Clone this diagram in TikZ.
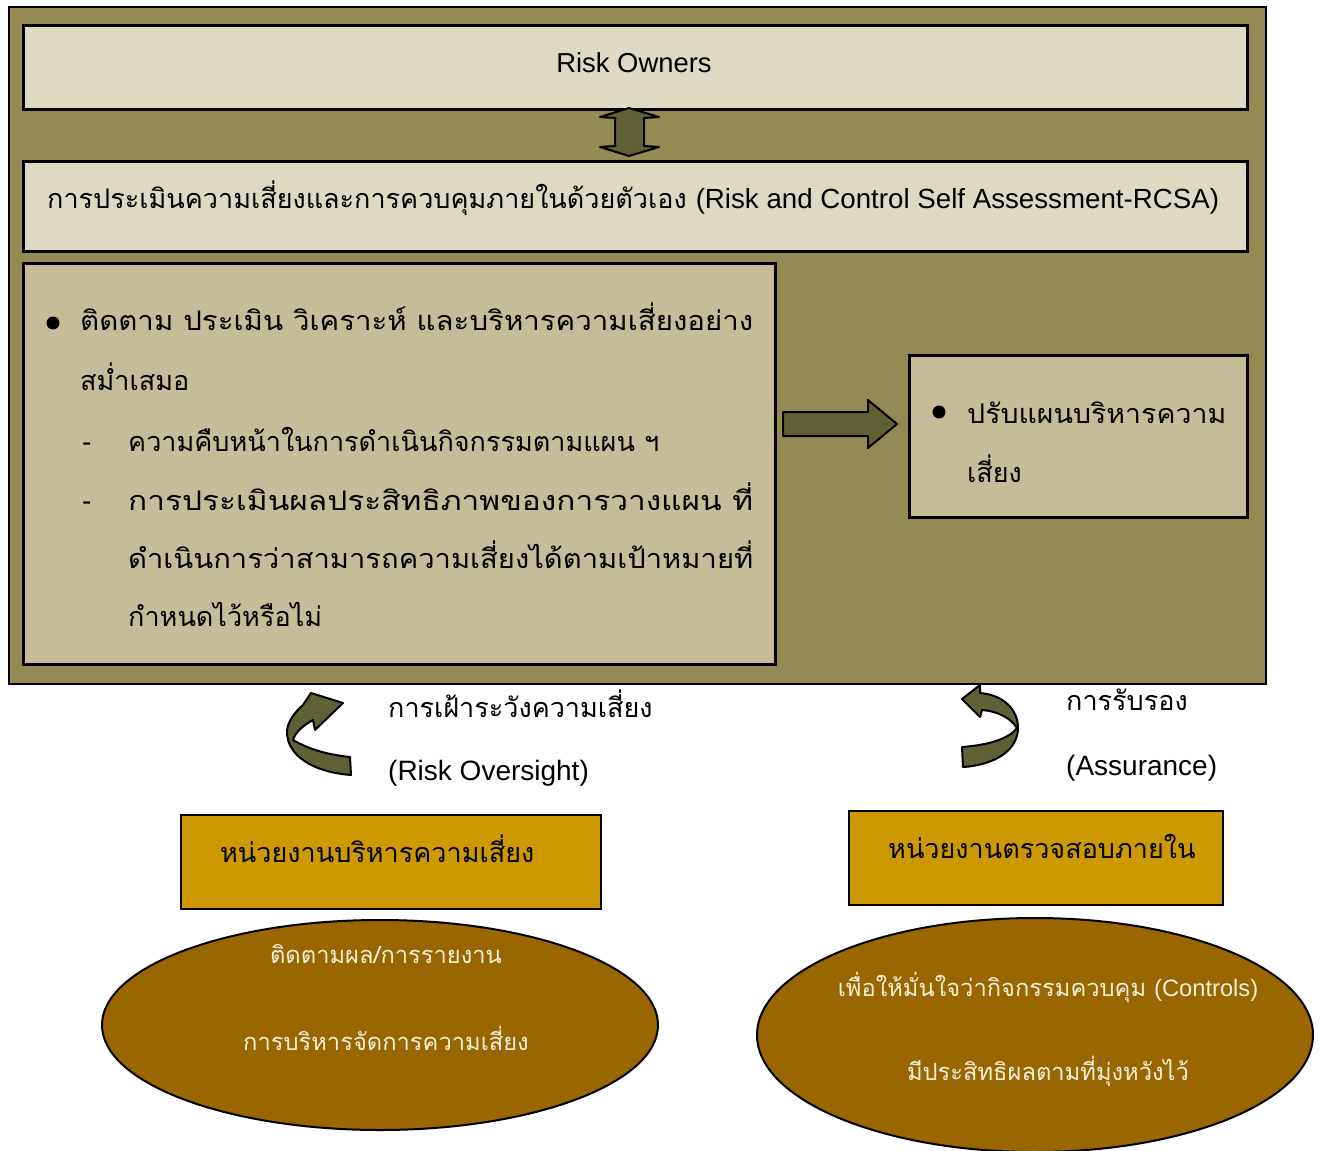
\documentclass[tikz,border=0pt]{standalone}
\usepackage{fontspec}
\setmainfont{Liberation Sans}
\newfontfamily\thaifont[Script=Thai]{Loma}
\usetikzlibrary{shapes.geometric}

\definecolor{olivebg}{HTML}{948A54}
\definecolor{palebox}{HTML}{DDD9C3}
\definecolor{tanbox}{HTML}{C4BD97}
\definecolor{arrowfill}{HTML}{5F6134}
\definecolor{goldbox}{HTML}{CC9900}
\definecolor{brownell}{HTML}{996600}
\definecolor{creamtext}{HTML}{F3EEDC}

\begin{document}
\begin{tikzpicture}[x=1pt,y=-1pt,
  box/.style={draw=black,line width=2.5pt,inner sep=0pt,anchor=north west},
  thtxt/.style={inner sep=0pt,anchor=base west,font=\thaifont\fontsize{27}{30}\selectfont},
  ellth/.style={inner sep=0pt,anchor=base,text=creamtext,font=\thaifont\fontsize{23.7}{28}\selectfont},
  entxt/.style={inner sep=0pt,anchor=base west,font=\fontsize{28}{32}\selectfont},
  blockarrow/.style={fill=arrowfill,draw=black,line width=2pt,line join=round}]
\useasboundingbox (0,0) rectangle (1323,1151);
\fill[white] (0,0) rectangle (1323,1151);

% olive frame and the three boxes
\node[box,fill=olivebg,line width=2pt,minimum width=1257,minimum height=677] (frame) at (8,6) {};
\node[box,fill=palebox,minimum width=1224,minimum height=84] (owners) at (22,24) {};
\node[inner sep=0pt,anchor=base,font=\fontsize{27.4}{30}\selectfont] (ownerstxt) at (634,72) {Risk Owners};
\node[box,fill=palebox,minimum width=1224,minimum height=90] (rcsa) at (22,160) {};
\node[thtxt] (rcsatxt) at (47,208) {การประเมินความเสี่ยงและการควบคุมภายในด้วยตัวเอง {\fontspec{Liberation Sans}\fontsize{27.7}{30}\selectfont(Risk and Control Self Assessment-RCSA)}};
\node[box,fill=tanbox,minimum width=752,minimum height=401] (monitor) at (22,262) {};
\node[box,fill=tanbox,minimum width=338,minimum height=162] (adjust) at (908,354) {};

% text of the monitoring box
\fill (53,323) circle (6.5);
\node[thtxt] (m1) at (80,330) {\resizebox{673pt}{\height}{ติดตาม ประเมิน วิเคราะห์ และบริหารความเสี่ยงอย่าง}};
\node[thtxt] (m2) at (80,390) {สม่ำเสมอ};
\node[entxt] (d1) at (82,451) {-};
\node[thtxt] (m3) at (128,451) {ความคืบหน้าในการดำเนินกิจกรรมตามแผน ฯ};
\node[entxt] (d2) at (82,510) {-};
\node[thtxt] (m4) at (128,510) {\resizebox{625pt}{\height}{การประเมินผลประสิทธิภาพของการวางแผน ที่}};
\node[thtxt] (m5) at (128,568) {\resizebox{625pt}{\height}{ดำเนินการว่าสามารถความเสี่ยงได้ตามเป้าหมายที่}};
\node[thtxt] (m6) at (128,626) {กำหนดไว้หรือไม่};

% text of the adjusting box
\fill (939,412) circle (6.5);
\node[thtxt] (a1) at (967,423) {\resizebox{259pt}{\height}{ปรับแผนบริหารความ}};
\node[thtxt] (a2) at (967,482) {เสี่ยง};

% block arrows
\draw[blockarrow] (629,108) -- (659,117) -- (644,118) -- (644,146) -- (659,147) -- (629,156)
  -- (600,147) -- (615,146) -- (615,118) -- (600,117) -- cycle;
\draw[blockarrow] (783,412) -- (868,412) -- (868,400) -- (897,424) -- (868,448) -- (868,436)
  -- (783,436) -- cycle;

% curved arrows
\draw[blockarrow] (351,775) .. controls (312,772) and (287,755) .. (287,732)
  .. controls (287,722) and (295,712) .. (303,705) -- (311,693) -- (343,703) -- (315,730)
  -- (313,720) .. controls (302,726) and (295,733) .. (293,740)
  .. controls (310,750) and (330,755) .. (350,757) -- cycle;
\draw[blockarrow] (962,699) -- (980,685) -- (980,693) .. controls (1004,695) and (1018,710) .. (1018,728)
  .. controls (1018,750) and (995,765) .. (963,767) -- (962,747)
  .. controls (990,745) and (1010,738) .. (1017,728)
  .. controls (1010,717) and (996,711) .. (982,710) -- (980,717) -- cycle;

% arrow labels
\node[thtxt] (ovth) at (388,717) {การเฝ้าระวังความเสี่ยง};
\node[entxt] (oven) at (388,780) {(Risk Oversight)};
\node[thtxt] (asth) at (1066,710) {การรับรอง};
\node[entxt] (asen) at (1066,775) {(Assurance)};

% units
\node[box,fill=goldbox,line width=2pt,minimum width=420,minimum height=94] (riskunit) at (180,814) {};
\node[thtxt] (riskunittxt) at (220,862) {หน่วยงานบริหารความเสี่ยง};
\node[box,fill=goldbox,line width=2pt,minimum width=374,minimum height=94] (auditunit) at (848,810) {};
\node[thtxt] (auditunittxt) at (888,858) {หน่วยงานตรวจสอบภายใน};

% ellipses
\node[draw=black,line width=2pt,fill=brownell,ellipse,minimum width=556,minimum height=210] (riskell) at (380,1025) {};
\node[ellth] (re1) at (386,963) {ติดตามผล/การรายงาน};
\node[ellth] (re2) at (386,1050) {การบริหารจัดการความเสี่ยง};
\node[draw=black,line width=2pt,fill=brownell,ellipse,minimum width=556,minimum height=234] (auditell) at (1035,1035) {};
\node[ellth] (ae1) at (1048,996) {เพื่อให้มั่นใจว่ากิจกรรมควบคุม {\fontspec{Liberation Sans}\fontsize{23.7}{28}\selectfont(Controls)}};
\node[ellth] (ae2) at (1048,1080) {มีประสิทธิผลตามที่มุ่งหวังไว้};
\end{tikzpicture}
\end{document}
